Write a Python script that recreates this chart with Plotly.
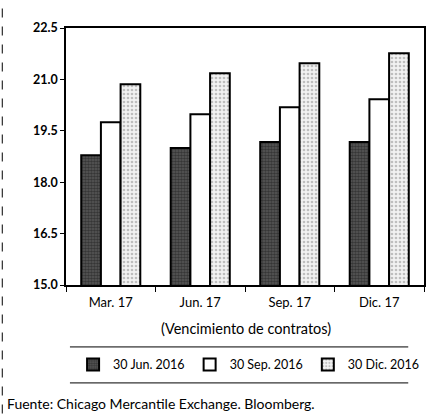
import plotly.graph_objects as go

categories = ["Mar. 17", "Jun. 17", "Sep. 17", "Dic. 17"]
series_names = ["30 Jun. 2016", "30 Sep. 2016", "30 Dic. 2016"]
jun_2016 = [18.79, 19.00, 19.17, 19.17]
sep_2016 = [19.75, 19.98, 20.19, 20.42]
dic_2016 = [20.86, 21.18, 21.47, 21.76]
y_ticks = [15.0, 16.5, 18.0, 19.5, 21.0, 22.5]

FONT = "Lato"

styles = [
    dict(bg="#5a5a5a", fg="#111111", shape=".", size=3, solidity=0.6),
    dict(bg="#ffffff", fg="#ffffff", shape="", size=4, solidity=0.1),
    dict(bg="#f2f2f2", fg="#8a8a8a", shape=".", size=4, solidity=0.35),
]

fig = go.Figure()
for name, vals, st in zip(series_names, [jun_2016, sep_2016, dic_2016], styles):
    fig.add_trace(go.Bar(
        x=categories, y=vals, name=name,
        marker=dict(
            color=st["bg"],
            line=dict(color="black", width=2),
            pattern=dict(shape=st["shape"], fgcolor=st["fg"], bgcolor=st["bg"],
                         size=st["size"], solidity=st["solidity"]),
        ),
    ))

fig.update_layout(
    width=427, height=417,
    margin=dict(l=66, r=1, t=28, b=132),
    paper_bgcolor="white", plot_bgcolor="white",
    barmode="group", bargap=0.34, bargroupgap=0.0,
    font=dict(family=FONT, size=12, color="black"),
    showlegend=True,
    legend=dict(orientation="h", x=0.51, xanchor="center", y=-0.311, yanchor="middle",
                font=dict(family=FONT, size=12.5), itemwidth=30, tracegroupgap=0,
                bgcolor="rgba(0,0,0,0)"),
    xaxis=dict(showline=True, linecolor="black", linewidth=1.5, mirror=True,
               ticks="outside", tickson="boundaries", ticklen=5, tickcolor="black",
               ticklabelstandoff=5,
               tickfont=dict(family=FONT, size=13)),
    yaxis=dict(range=[15.0, 22.5], tickvals=y_ticks, tickformat=".1f",
               showline=True, linecolor="black", linewidth=1.5, mirror=True,
               ticks="outside", ticklen=4, tickcolor="black", showgrid=False, zeroline=False,
               tickfont=dict(family=FONT, size=12.5, weight="bold")),
)

# axis title
fig.add_annotation(text="(Vencimiento de contratos)", xref="paper", yref="paper",
                   x=0.503, y=-0.171, showarrow=False, xanchor="center", yanchor="middle",
                   font=dict(family=FONT, size=14.5))
# source
fig.add_annotation(text="Fuente: Chicago Mercantile Exchange. Bloomberg.", xref="paper", yref="paper",
                   x=-0.169, y=-0.463, showarrow=False, xanchor="left", yanchor="middle",
                   font=dict(family=FONT, size=14))
# legend rules
for yy in [-0.241, -0.381]:
    fig.add_shape(type="line", xref="paper", yref="paper", x0=0.011, x1=0.956, y0=yy, y1=yy,
                  line=dict(color="black", width=1))
# left dashed scan edge
fig.add_shape(type="line", xref="paper", yref="paper", x0=-0.178, x1=-0.178, y0=-0.5, y1=1.1,
              line=dict(color="black", width=1, dash="dash"))

fig.write_html("out.html", config={"displayModeBar": False},
               post_script="document.body.style.margin='0';")
